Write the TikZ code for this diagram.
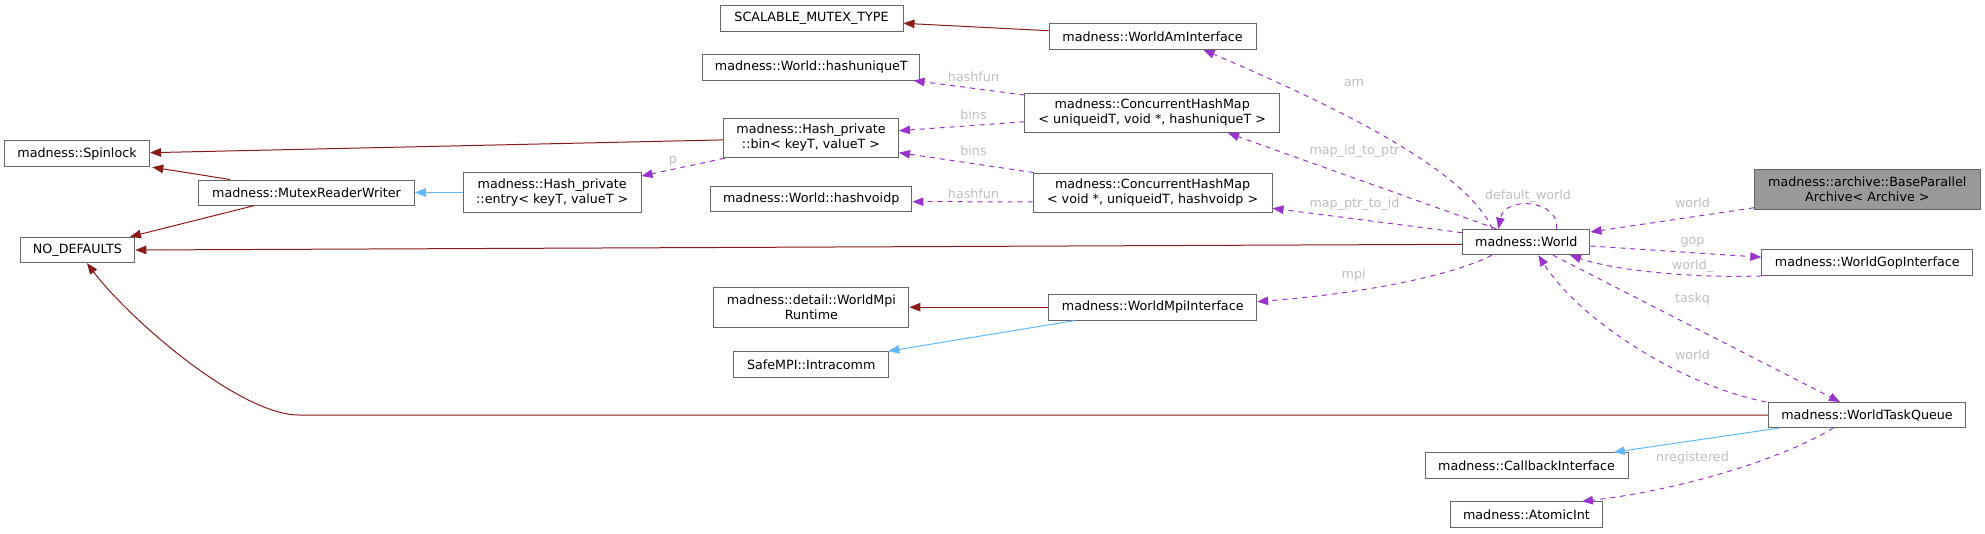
\documentclass[tikz,border=0pt]{standalone}
\usepackage{fontspec}
\setmainfont{DejaVu Sans}
\usetikzlibrary{arrows.meta,calc}
\definecolor{inhred}{HTML}{8B1A1A}
\definecolor{inhblue}{HTML}{63B8FF}
\definecolor{usepurple}{HTML}{9A32CD}
\definecolor{lblgray}{HTML}{BEBEBE}
\definecolor{bordergray}{HTML}{666666}
\definecolor{hlgray}{HTML}{999999}
\begin{document}
\begin{tikzpicture}[x=1pt,y=-1pt,
  box/.style={draw=bordergray, fill=white, line width=1pt, inner sep=0pt, align=center,
    font=\fontsize{12.7}{15}\selectfont},
  hlbox/.style={box, fill=hlgray},
  lbl/.style={inner sep=0pt, text=lblgray, font=\fontsize{12.7}{15}\selectfont},
  arrowhd/.style={-{Triangle[length=11pt,width=8.5pt]}},
  inh/.style={arrowhd, draw=inhred, line width=1pt},
  inhb/.style={arrowhd, draw=inhblue, line width=1pt},
  usedep/.style={arrowhd, draw=usepurple, line width=1pt, dash pattern=on 5pt off 5pt}
]
\useasboundingbox (0,0) rectangle (1985,533);

% nodes
\node[box, minimum width=183pt, minimum height=26pt] (scal) at (811.5,18) {SCALABLE\_MUTEX\_TYPE};
\node[box, minimum width=207pt, minimum height=25.5pt] (amif) at (1152.5,36.7) {madness::WorldAmInterface};
\node[box, minimum width=217pt, minimum height=25.7pt] (hu) at (811.3,67.2) {madness::World::hashuniqueT};
\node[box, minimum width=254.5pt, minimum height=39.5pt] (chm1) at (1152.2,112.8) {madness::ConcurrentHashMap\\< uniqueidT, void *, hashuniqueT >};
\node[box, minimum width=175pt, minimum height=39.7pt] (bin) at (811,137.9) {madness::Hash\_private\\::bin< keyT, valueT >};
\node[box, minimum width=145pt, minimum height=26pt] (spin) at (77,153.7) {madness::Spinlock};
\node[box, minimum width=215.6pt, minimum height=25pt] (mrw) at (306.5,192.5) {madness::MutexReaderWriter};
\node[box, minimum width=177.6pt, minimum height=39.6pt] (entry) at (552.2,192.5) {madness::Hash\_private\\::entry< keyT, valueT >};
\node[box, minimum width=201.5pt, minimum height=25.3pt] (hv) at (811.2,199.3) {madness::World::hashvoidp};
\node[box, minimum width=238.8pt, minimum height=39.5pt] (chm2) at (1152.6,192.8) {madness::ConcurrentHashMap\\< void *, uniqueidT, hashvoidp >};
\node[box, minimum width=114.8pt, minimum height=25.4pt] (nod) at (77.4,250) {NO\_DEFAULTS};
\node[box, minimum width=127.3pt, minimum height=25.4pt] (world) at (1526.3,242) {madness::World};
\node[hlbox, minimum width=226pt, minimum height=40pt] (bpa) at (1867.3,189.7) {madness::archive::BaseParallel\\Archive< Archive >};
\node[box, minimum width=211pt, minimum height=25.5pt] (gop) at (1867.3,262.7) {madness::WorldGopInterface};
\node[box, minimum width=195pt, minimum height=40.3pt] (rt) at (811.4,307.2) {madness::detail::WorldMpi\\Runtime};
\node[box, minimum width=208pt, minimum height=25.7pt] (mpi) at (1152.7,307.2) {madness::WorldMpiInterface};
\node[box, minimum width=155.3pt, minimum height=25.6pt] (ic) at (811.2,364.5) {SafeMPI::Intracomm};
\node[box, minimum width=197.5pt, minimum height=25pt] (wtq) at (1867,415) {madness::WorldTaskQueue};
\node[box, minimum width=203pt, minimum height=25.6pt] (cb) at (1526.5,465.5) {madness::CallbackInterface};
\node[box, minimum width=152pt, minimum height=25.7pt] (ai) at (1526.4,514.8) {madness::AtomicInt};

% labels
\node[lbl] (l1) at (973.5,76.5) {hashfun};
\node[lbl] (l2) at (973.5,114.5) {bins};
\node[lbl] (l3) at (973.5,150.5) {bins};
\node[lbl] (l4) at (973.5,193.3) {hashfun};
\node[lbl] (l5) at (673,161) {p};
\node[lbl] (l6) at (1354,82.7) {am};
\node[lbl] (l7) at (1354.5,150.8) {map\_id\_to\_ptr};
\node[lbl] (l8) at (1354.5,204) {map\_ptr\_to\_id};
\node[lbl] (l9) at (1528,196.5) {default\_world};
\node[lbl] (l10) at (1692.5,202.5) {world};
\node[lbl] (l11) at (1692.5,242) {gop};
\node[lbl] (l12) at (1692.5,265.7) {world\_};
\node[lbl] (l13) at (1353.7,275) {mpi};
\node[lbl] (l14) at (1692.5,299) {taskq};
\node[lbl] (l15) at (1692.5,354.7) {world};
\node[lbl] (l16) at (1692.5,457.5) {nregistered};

% edges
\draw[inh] ($(amif.west)+(0,-6)$) -- ($(scal.east)+(0,5.3)$);
\draw[usedep] ($(chm1.west)+(0,-17.8)$) -- ($(hu.south east)+(-6.7,0)$);
\draw[usedep] ($(chm1.west)+(0,9)$) -- ($(bin.east)+(0,-7.2)$);
\draw[usedep] ($(chm2.north west)+(1,0)$) -- ($(bin.east)+(0,14.8)$);
\draw[usedep] ($(chm2.west)+(0,9)$) -- ($(hv.east)+(0,2.4)$);
\draw[inh] ($(bin.west)+(0,2)$) -- ($(spin.east)+(0,-1)$);
\draw[inh] ($(mrw.north)+(-76.5,0)$) -- ($(spin.south east)+(2.3,0)$);
\draw[inh] ($(mrw.south)+(-52,0)$) -- ($(nod.north east)+(-5.3,0)$);
\draw[inhb] (entry.west) -- (mrw.east);
\draw[usedep] ($(bin.south west)+(1.5,0)$) -- ($(entry.east)+(0,-16.5)$);
\draw[inh] ($(world.west)+(0,2.3)$) -- (nod.east);
\draw[inh] (wtq.west) -- (299,415) .. controls (240,415) and (130,320) .. ($(nod.south)+(9.6,0)$);
\draw[usedep] ($(world.north)+(-34,0)$) .. controls (1470,180) and (1380,125) .. ($(amif.south)+(51,0)$);
\draw[usedep] ($(world.north)+(-30,0)$) -- ($(chm1.south)+(75.8,0)$);
\draw[usedep] ($(world.west)+(0,-9.3)$) -- ($(chm2.east)+(0,15.5)$);
\draw[usedep] ($(world.north)+(30.4,0)$) .. controls (1560,200) and (1505,195) .. ($(world.north)+(-28,0)$);
\draw[usedep] ($(bpa.south west)+(0,-2.4)$) -- ($(world.east)+(0,-10)$);
\draw[usedep] ($(world.east)+(0,4)$) -- ($(gop.west)+(0,-5.5)$);
\draw[usedep] (gop.south west) .. controls (1700,278) and (1620,272) .. ($(world.south)+(43.7,0)$);
\draw[usedep] ($(world.south)+(26.7,0)$) -- ($(wtq.north)+(-27,0)$);
\draw[usedep] ($(wtq.north west)+(-1.6,0)$) .. controls (1680,385) and (1580,320) .. ($(world.south)+(12,0)$);
\draw[usedep] ($(world.south)+(-34.6,0)$) .. controls (1460,272) and (1380,292) .. ($(mpi.east)+(0,-5.5)$);
\draw[inh] (mpi.west) -- (rt.east);
\draw[inhb] ($(mpi.south west)+(26.7,0)$) -- ($(ic.north east)+(-1,0)$);
\draw[inhb] ($(wtq.south west)+(11.7,0)$) -- ($(cb.north east)+(-14.7,0)$);
\draw[usedep] ($(wtq.south)+(-33.7,0)$) .. controls (1780,460) and (1680,490) .. ($(ai.north east)+(-21,0)$);
\end{tikzpicture}
\end{document}
